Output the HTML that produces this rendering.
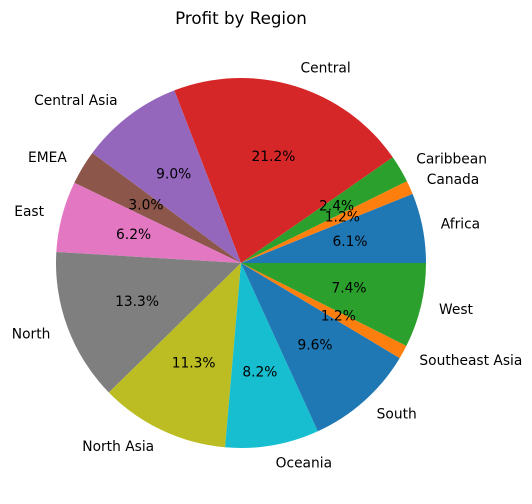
<!DOCTYPE html>
<html><head><meta charset="utf-8">
<style>
html,body{margin:0;padding:0;background:#fff;}
svg{display:block;font-family:"DejaVu Sans","Liberation Sans",sans-serif;}
</style></head>
<body>
<svg id="chart" width="532" height="504" viewBox="0 0 532 504">
<text x="241" y="24" text-anchor="middle" font-size="16.7" fill="#000">Profit by Region</text>
<g id="wedges"></g><g id="labels"></g>
</svg>
<script>
const categories = ["Africa","Canada","Caribbean","Central","Central Asia","EMEA","East","North","North Asia","Oceania","South","Southeast Asia","West"];
const values = [6.1,1.2,2.4,21.2,9.0,3.0,6.2,13.3,11.3,8.2,9.6,1.2,7.4];
const colors = ["#1f77b4","#ff7f0e","#2ca02c","#d62728","#9467bd","#8c564b","#e377c2","#7f7f7f","#bcbd22","#17becf","#1f77b4","#ff7f0e","#2ca02c"];
const cx=241, cy=263, r=185;
const total = values.reduce((a,b)=>a+b,0);
const ns="http://www.w3.org/2000/svg";
const gw=document.getElementById('wedges'), gl=document.getElementById('labels');
function pt(a,rad){return [cx+rad*Math.cos(a), cy-rad*Math.sin(a)];}
let start=0;
values.forEach((v,i)=>{
  const sweep=v/total*2*Math.PI, end=start+sweep;
  const [x1,y1]=pt(start,r),[x2,y2]=pt(end,r);
  const p=document.createElementNS(ns,'path');
  p.setAttribute('d',`M${cx},${cy} L${x1},${y1} A${r},${r} 0 ${sweep>Math.PI?1:0} 0 ${x2},${y2} Z`);
  p.setAttribute('fill',colors[i]);
  
  
  gw.appendChild(p);
  const mid=(start+end)/2;
  const [lx,ly]=pt(mid,r*1.1);
  const t=document.createElementNS(ns,'text');
  t.setAttribute('x',lx);t.setAttribute('y',ly);
  t.setAttribute('font-size','13.8');t.setAttribute('dominant-baseline','central');
  t.setAttribute('text-anchor',Math.cos(mid)>=0?'start':'end');
  t.textContent=categories[i];
  
  
  gl.appendChild(t);
  const [px,py]=pt(mid,r*0.6);
  const q=document.createElementNS(ns,'text');
  q.setAttribute('x',px);q.setAttribute('y',py);
  q.setAttribute('font-size','13.8');q.setAttribute('dominant-baseline','central');
  q.setAttribute('text-anchor','middle');
  q.textContent=v.toFixed(1)+'%';
  
  
  gl.appendChild(q);
  start=end;
});
</script>
</body></html>
